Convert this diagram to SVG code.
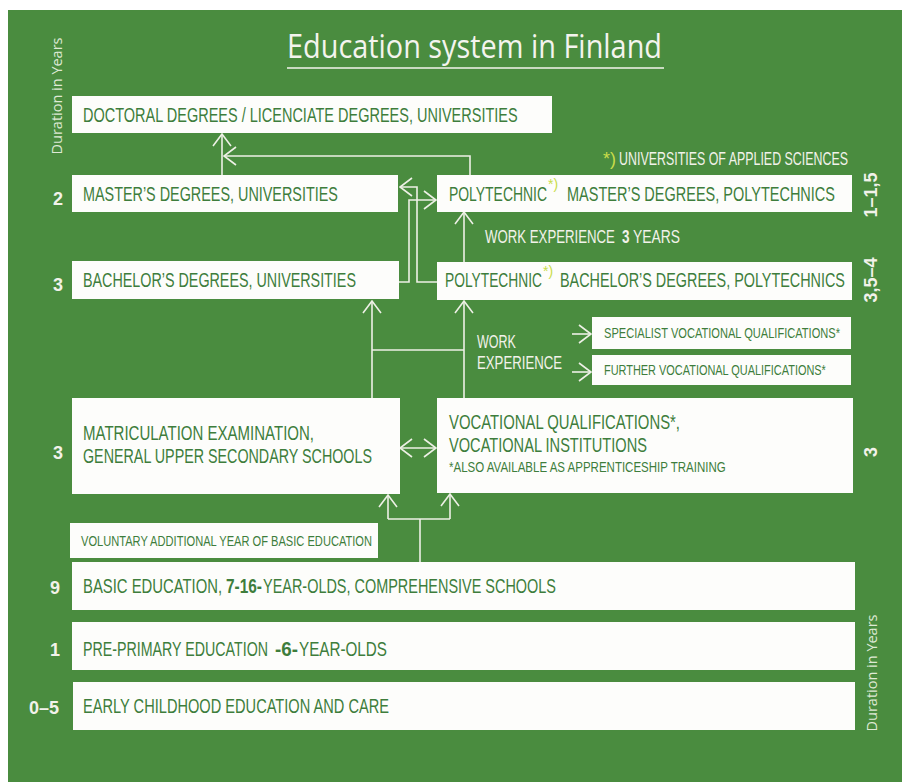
<svg xmlns="http://www.w3.org/2000/svg" width="902" height="782" viewBox="0 0 902 782">
<defs>
<style>
.bg{fill:#4a8c3f}
.box{fill:#fdfdfb}
.t{font-family:"Liberation Sans",Arial,sans-serif;fill:#3e7d3c;font-size:20px}
.ts{font-family:"Liberation Sans",Arial,sans-serif;fill:#3e7d3c;font-size:14px}
.w{font-family:"Liberation Sans",Arial,sans-serif;fill:#f2f2ea;font-size:18px}
.num{font-family:"Liberation Sans",Arial,sans-serif;fill:#f2f2ea;font-size:18px;font-weight:bold}
.dur{font-family:"Open Sans","Liberation Sans",sans-serif;fill:#dfe9d5;font-size:14px}
.y{fill:#c9dc4a}
.b{font-weight:bold}
.c{fill:none;stroke:#eef0e6;stroke-width:1.6}
.ca{fill:none;stroke:#eef0e6;stroke-width:1.6;marker-end:url(#ah)}
</style>
<marker id="ah" markerUnits="userSpaceOnUse" viewBox="0 0 14 20" markerWidth="14" markerHeight="20" refX="13" refY="10" orient="auto-start-reverse">
<path d="M1,1 L13,10 L1,19" fill="none" stroke="#eef0e6" stroke-width="1.6"/>
</marker>
</defs>
<rect x="0" y="0" width="902" height="782" fill="#ffffff"/>
<rect class="bg" x="8" y="10" width="894" height="772"/>

<g id="title">
<text x="287" y="58" font-family="Open Sans,Liberation Sans,sans-serif" font-size="33" fill="#f4f4ee" textLength="375" lengthAdjust="spacingAndGlyphs">Education system in Finland</text>
<line x1="287" y1="68" x2="664" y2="68" stroke="#f4f4ee" stroke-width="1.6"/>
</g>

<g id="duration-left"><text class="dur" transform="translate(62,96) rotate(-90)" text-anchor="middle" textLength="117" lengthAdjust="spacingAndGlyphs">Duration in Years</text></g>
<g id="duration-right"><text class="dur" transform="translate(877,673) rotate(-90)" text-anchor="middle" textLength="117" lengthAdjust="spacingAndGlyphs">Duration in Years</text></g>

<g id="legend">
<text class="w y" x="603" y="165" font-size="15">*)</text>
<text class="w" font-size="15" transform="translate(619,165) scale(0.825,1)" textLength="277.6" lengthAdjust="spacingAndGlyphs">UNIVERSITIES OF APPLIED SCIENCES</text>
</g>

<g id="connectors">
<line class="ca" x1="222" y1="175" x2="222" y2="134"/>
<path class="ca" d="M470,175 V156 H224"/>
<path class="ca" d="M398,282 H409 V200 H436"/>
<path class="ca" d="M437,282 H417 V187 H400"/>
<line class="ca" x1="464" y1="263" x2="464" y2="212"/>
<line class="ca" x1="372" y1="398" x2="372" y2="301"/>
<line class="ca" x1="464" y1="398" x2="464" y2="301"/>
<line class="c" x1="372" y1="350" x2="464" y2="350"/>
<line class="ca" x1="572" y1="334" x2="591" y2="334"/>
<line class="ca" x1="572" y1="372" x2="591" y2="372"/>
<line class="ca" x1="400" y1="448" x2="436" y2="448" marker-start="url(#ah)"/>
<line class="c" x1="420" y1="562" x2="420" y2="519"/>
<line class="c" x1="388" y1="519" x2="450" y2="519"/>
<line class="ca" x1="388" y1="519" x2="388" y2="495"/>
<line class="ca" x1="450" y1="519" x2="450" y2="494"/>
</g>

<g id="doctoral">
<rect class="box" x="72" y="96" width="480" height="37"/>
<text class="t" transform="translate(83,122) scale(0.722,1)" textLength="602" lengthAdjust="spacingAndGlyphs">DOCTORAL DEGREES / LICENCIATE DEGREES, UNIVERSITIES</text>
</g>

<g id="masters-univ">
<rect class="box" x="72" y="175" width="326" height="37"/>
<text class="t" transform="translate(83,201) scale(0.719,1)" textLength="354.5" lengthAdjust="spacingAndGlyphs">MASTER’S DEGREES, UNIVERSITIES</text>
<text class="num" x="58" y="205" text-anchor="middle">2</text>
</g>

<g id="masters-poly">
<rect class="box" x="437" y="175" width="415" height="37"/>
<text class="t" transform="translate(449,201) scale(0.689,1)" textLength="142.2" lengthAdjust="spacingAndGlyphs">POLYTECHNIC</text>
<text class="ts y" x="548" y="189" font-size="13">*)</text>
<text class="t" transform="translate(567,201) scale(0.722,1)" textLength="371.2" lengthAdjust="spacingAndGlyphs">MASTER’S DEGREES, POLYTECHNICS</text>
<text class="num" transform="translate(877,195) rotate(-90)" text-anchor="middle">1–1,5</text>
</g>

<g id="work-exp-3">
<text class="w" transform="translate(485,243) scale(0.734,1)" textLength="177" lengthAdjust="spacingAndGlyphs">WORK EXPERIENCE</text>
<text class="w b" transform="translate(622,243) scale(0.75,1)">3</text>
<text class="w" transform="translate(633,243) scale(0.77,1)" textLength="61" lengthAdjust="spacingAndGlyphs">YEARS</text>
</g>

<g id="bachelor-univ">
<rect class="box" x="72" y="261" width="327" height="38"/>
<text class="t" transform="translate(83,287) scale(0.716,1)" textLength="381.2" lengthAdjust="spacingAndGlyphs">BACHELOR’S DEGREES, UNIVERSITIES</text>
<text class="num" x="58" y="291" text-anchor="middle">3</text>
</g>

<g id="bachelor-poly">
<rect class="box" x="437" y="262" width="415" height="38"/>
<text class="t" transform="translate(445,287) scale(0.682,1)" textLength="142.2" lengthAdjust="spacingAndGlyphs">POLYTECHNIC</text>
<text class="ts y" x="543" y="276" font-size="13">*)</text>
<text class="t" transform="translate(560,287) scale(0.716,1)" textLength="397.9" lengthAdjust="spacingAndGlyphs">BACHELOR’S DEGREES, POLYTECHNICS</text>
<text class="num" transform="translate(877,280) rotate(-90)" text-anchor="middle">3,5–4</text>
</g>

<g id="work-exp">
<text class="w" transform="translate(477,348) scale(0.696,1)" textLength="56" lengthAdjust="spacingAndGlyphs">WORK</text>
<text class="w" transform="translate(477,369) scale(0.733,1)" textLength="116" lengthAdjust="spacingAndGlyphs">EXPERIENCE</text>
</g>

<g id="specialist">
<rect class="box" x="592" y="317" width="259" height="32"/>
<text class="ts" transform="translate(604,338) scale(0.784,1)" textLength="301" lengthAdjust="spacingAndGlyphs">SPECIALIST VOCATIONAL QUALIFICATIONS*</text>
</g>

<g id="further">
<rect class="box" x="592" y="355" width="259" height="30"/>
<text class="ts" transform="translate(604,375) scale(0.773,1)" textLength="287" lengthAdjust="spacingAndGlyphs">FURTHER VOCATIONAL QUALIFICATIONS*</text>
</g>

<g id="matriculation">
<rect class="box" x="72" y="398" width="328" height="96"/>
<text class="t" transform="translate(83,440) scale(0.74,1)" textLength="312.2" lengthAdjust="spacingAndGlyphs">MATRICULATION EXAMINATION,</text>
<text class="t" transform="translate(83,463) scale(0.7125,1)" textLength="405.6" lengthAdjust="spacingAndGlyphs">GENERAL UPPER SECONDARY SCHOOLS</text>
<text class="num" x="58" y="459" text-anchor="middle">3</text>
</g>

<g id="vocational">
<rect class="box" x="437" y="398" width="416" height="95"/>
<text class="t" transform="translate(449,429) scale(0.7345,1)" textLength="314.5" lengthAdjust="spacingAndGlyphs">VOCATIONAL QUALIFICATIONS*,</text>
<text class="t" transform="translate(449,452) scale(0.725,1)" textLength="273" lengthAdjust="spacingAndGlyphs">VOCATIONAL INSTITUTIONS</text>
<text class="ts" font-size="13" transform="translate(449,472) scale(0.873,1)" textLength="317" lengthAdjust="spacingAndGlyphs">*ALSO AVAILABLE AS APPRENTICESHIP TRAINING</text>
<text class="num" transform="translate(877,452) rotate(-90)" text-anchor="middle">3</text>
</g>

<g id="voluntary">
<rect class="box" x="70" y="523" width="308" height="35"/>
<text class="ts" font-size="15" transform="translate(81,546) scale(0.732,1)" textLength="397.6" lengthAdjust="spacingAndGlyphs">VOLUNTARY ADDITIONAL YEAR OF BASIC EDUCATION</text>
</g>

<g id="basic">
<rect class="box" x="72" y="562" width="783" height="48"/>
<text class="t" transform="translate(83,593) scale(0.736,1)" textLength="188.9" lengthAdjust="spacingAndGlyphs">BASIC EDUCATION,</text>
<text class="t b" transform="translate(226,593) scale(0.771,1)" textLength="46.7" lengthAdjust="spacingAndGlyphs">7-16-</text>
<text class="t" transform="translate(263,593) scale(0.716,1)" textLength="409.2" lengthAdjust="spacingAndGlyphs">YEAR-OLDS, COMPREHENSIVE SCHOOLS</text>
<text class="num" x="55" y="594" text-anchor="middle">9</text>
</g>

<g id="preprimary">
<rect class="box" x="72" y="622" width="783" height="48"/>
<text class="t" transform="translate(83,656) scale(0.7055,1)" textLength="262.2" lengthAdjust="spacingAndGlyphs">PRE-PRIMARY EDUCATION</text>
<text class="t b" transform="translate(275,656) scale(0.94,1)" textLength="24.4" lengthAdjust="spacingAndGlyphs">-6-</text>
<text class="t" transform="translate(299,656) scale(0.761,1)" textLength="115.6" lengthAdjust="spacingAndGlyphs">YEAR-OLDS</text>
<text class="num" x="55" y="656" text-anchor="middle">1</text>
</g>

<g id="early">
<rect class="box" x="73" y="682" width="782" height="48"/>
<text class="t" transform="translate(83,713) scale(0.7227,1)" textLength="423.4" lengthAdjust="spacingAndGlyphs">EARLY CHILDHOOD EDUCATION AND CARE</text>
<text class="num" x="44" y="714" text-anchor="middle">0–5</text>
</g>
</svg>
